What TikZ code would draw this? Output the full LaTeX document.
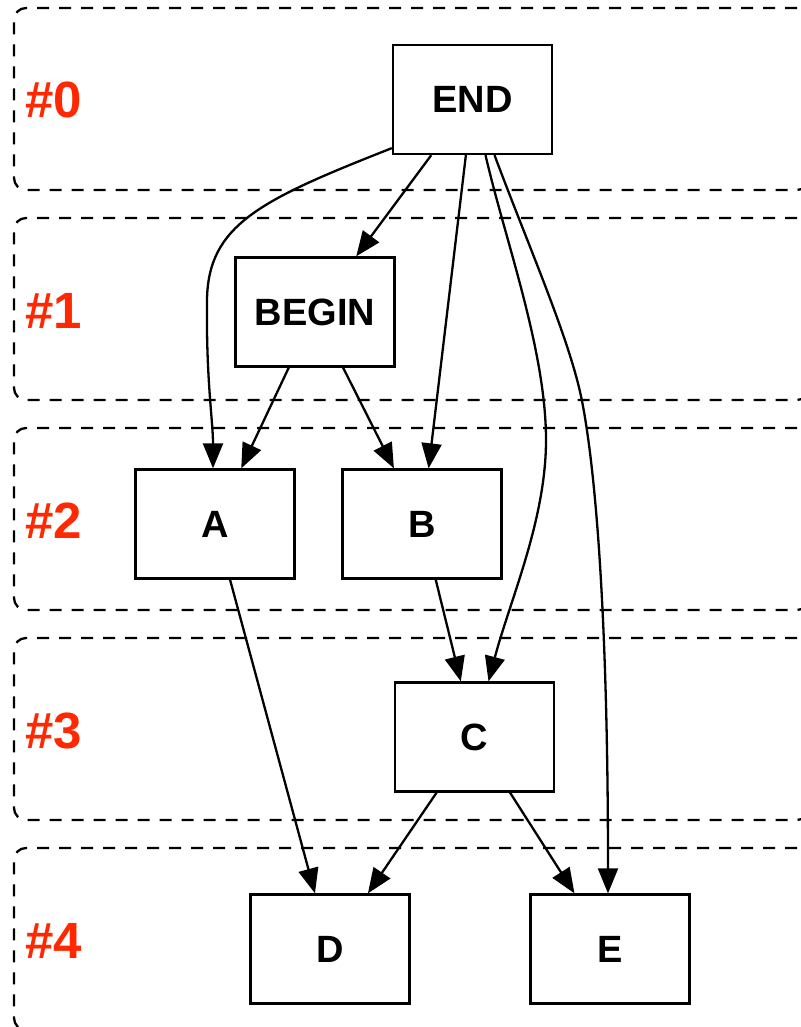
\documentclass[tikz,border=0pt]{standalone}
\usepackage{fontspec}
\setmainfont{Liberation Sans}
\usetikzlibrary{arrows.meta,calc}
\definecolor{rankred}{RGB}{255,40,0}
\begin{document}
\begin{tikzpicture}[x=0.5pt,y=-0.5pt,
        lane/.style={draw, dash pattern=on 6pt off 5pt, line width=1.15pt, rounded corners=6pt,
            minimum width=397.5pt, minimum height=91pt, inner sep=0pt},
        rank/.style={anchor=base west, inner sep=0pt, text=rankred,
            font=\fontsize{25.5}{30}\selectfont\bfseries},
        box/.style={draw, line width=1.15pt, minimum width=79.5pt, minimum height=54.5pt,
            inner sep=0pt, font=\fontsize{19}{23}\selectfont\bfseries},
        edge/.style={line width=1.15pt, -{Triangle[length=12.5pt,width=10pt]}}]
        \useasboundingbox (0,0) rectangle (801,1027);
        \node[lane] (r0) at (411.5,99) {};
        \node[lane] (r1) at (411.5,309) {};
        \node[lane] (r2) at (411.5,519) {};
        \node[lane] (r3) at (411.5,729) {};
        \node[lane] (r4) at (411.5,939) {};
        \node[rank] (n0) at (25,118) {\#0};
        \node[rank] (n1) at (25,328) {\#1};
        \node[rank] (n2) at (25,538) {\#2};
        \node[rank] (n3) at (25,748) {\#3};
        \node[rank] (n4) at (25,958) {\#4};
        \node[box] (end) at (472.5,99.5) {END};
        \node[box] (begin) at (315,312) {BEGIN};
        \node[box] (a) at (215,524) {A};
        \node[box] (b) at (422,524) {B};
        \node[box] (c) at (474.5,737) {C};
        \node[box] (d) at (330,949) {D};
        \node[box] (e) at (610,949) {E};
        \draw[edge] (end) -- (begin);
        \draw[edge] (end) -- (b);
        \draw[edge] ($(end.south west)+(0,-7)$) .. controls (260,200) and (208,225) .. (207,300)
            .. controls (206,380) and (213,420) .. ($(a.north)+(-2,0)$);
        \draw[edge] ($(end.south)+(13,0)$) .. controls (505,240) and (546,350) .. (546,440)
            .. controls (546,520) and (510,600) .. ($(c.north)+(14,0)$);
        \draw[edge] ($(end.south)+(22,0)$) .. controls (530,250) and (570,340) .. (582,401)
            .. controls (594,462) and (608,600) .. ($(e.north)+(-2,0)$);
        \draw[edge] (begin) -- (a);
        \draw[edge] (begin) -- (b);
        \draw[edge] (a) -- (d);
        \draw[edge] (b) -- (c);
        \draw[edge] (c) -- (d);
        \draw[edge] (c) -- (e);
\end{tikzpicture}
\end{document}
